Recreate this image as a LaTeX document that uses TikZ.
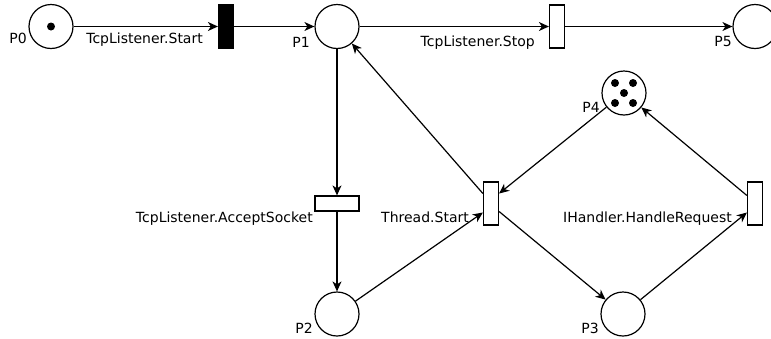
\documentclass[tikz,border=0pt]{standalone}
\usepackage{fontspec}
\setmainfont{DejaVu Sans}
\usetikzlibrary{arrows.meta,calc}
\begin{document}
\begin{tikzpicture}[x=1pt,y=-1pt,
  place/.style={circle,draw,line width=1.2pt,minimum size=44pt,inner sep=0pt},
  vtrans/.style={rectangle,draw,line width=1.2pt,minimum width=15pt,minimum height=43pt,inner sep=0pt},
  htrans/.style={rectangle,draw,line width=1.2pt,minimum width=44pt,minimum height=15pt,inner sep=0pt},
  lbl/.style={font=\fontsize{14}{16}\selectfont,inner sep=0pt,anchor=base east},
  arc/.style={line width=1.2pt,-{Stealth[length=10pt,width=9pt,inset=3pt]}},
  token/.style={circle,fill,inner sep=0pt,minimum size=8pt}]
\useasboundingbox (0,0) rectangle (771,338);

% places
\node[place] (p0) at (51,26.5) {};
\node[token] (k0) at (p0) {};
\node[place] (p1) at (337,26.5) {};
\node[place] (p5) at (755,26.5) {};
\node[place] (p4) at (624,93) {};
\node[token] (k1) at ($(p4)+(-9,-10)$) {};
\node[token] (k2) at ($(p4)+(9,-10)$) {};
\node[token] (k3) at (p4) {};
\node[token] (k4) at ($(p4)+(-9,10)$) {};
\node[token] (k5) at ($(p4)+(9,10)$) {};
\node[place] (p2) at (337,314) {};
\node[place] (p3) at (623,314) {};

% transitions
\node[vtrans,fill=black,minimum width=15pt] (tstart) at (226,26.5) {};
\node[vtrans] (tstop) at (557,26.5) {};
\node[htrans] (taccept) at (337,203.5) {};
\node[vtrans] (tthread) at (491,203.5) {};
\node[vtrans] (thandle) at (755,203.5) {};

% labels
\node[lbl] (lp0) at (27,43) {P0};
\node[lbl] (lp1) at (310,47) {P1};
\node[lbl] (lp5) at (732,46) {P5};
\node[lbl] (lp4) at (600,112) {P4};
\node[lbl] (lp2) at (313,333) {P2};
\node[lbl] (lp3) at (599,333) {P3};
\node[lbl] (ltstart) at (203,43) {TcpListener.Start};
\node[lbl] (ltstop) at (535,46) {TcpListener.Stop};
\node[lbl] (ltaccept) at (313,222) {TcpListener.AcceptSocket};
\node[lbl] (ltthread) at (469,222) {Thread.Start};
\node[lbl] (lthandle) at (732,222) {IHandler.HandleRequest};

% helper points on transition sides
\coordinate (thrIn) at ($(tthread.west)+(0,9)$);
\coordinate (thrOutUp) at ($(tthread.west)+(0,-10)$);
\coordinate (thrInUp) at ($(tthread.east)+(0,-10)$);
\coordinate (thrOut) at ($(tthread.east)+(0,8)$);
\coordinate (hndIn) at ($(thandle.west)+(0,9)$);
\coordinate (hndOut) at ($(thandle.west)+(0,-8)$);

% arcs
\draw[arc] (p0) -- (tstart);
\draw[arc] (tstart) -- (p1);
\draw[arc] (p1) -- (tstop);
\draw[arc] (tstop) -- (p5);
\draw[arc] (p1) -- (taccept);
\draw[arc] (taccept) -- (p2);
\draw[arc] (p2) -- (thrIn);
\draw[arc] (thrOutUp) -- (p1);
\draw[arc] (thrOut) -- (p3);
\draw[arc] (p4) -- (thrInUp);
\draw[arc] (p3) -- (hndIn);
\draw[arc] (hndOut) -- (p4);
\end{tikzpicture}
\end{document}
